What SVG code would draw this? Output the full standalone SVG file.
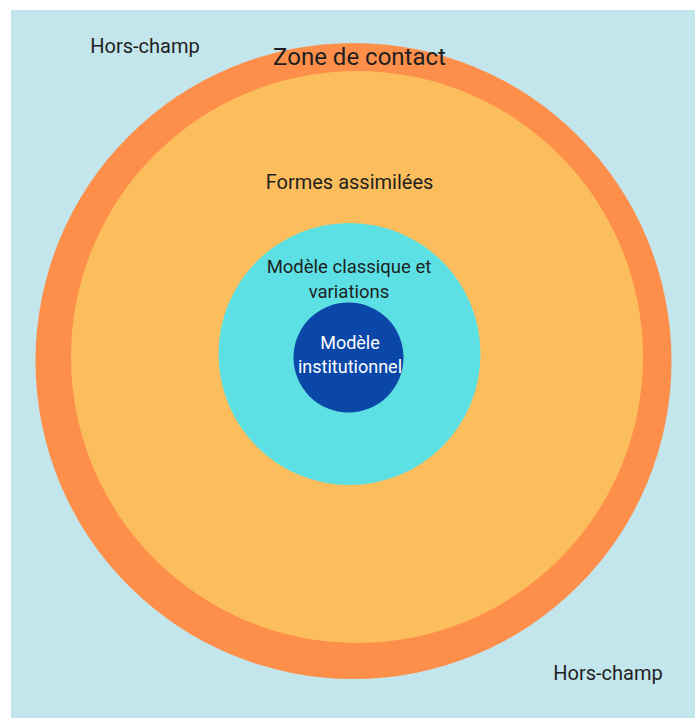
<svg xmlns="http://www.w3.org/2000/svg" width="695" height="718" viewBox="0 0 695 718">
<style>
text{font-family:Roboto,"Liberation Sans",sans-serif;fill:#1f1f1f;text-anchor:middle}
.h{font-size:20px}
.l{font-size:24px}
.m{font-size:18.5px}
.i{font-size:18px;fill:#ffffff}
</style>
<rect x="0" y="0" width="695" height="718" fill="#ffffff"/>
<rect x="11" y="10" width="684" height="708" fill="#C3E5EC"/>
<g id="zone-contact"><circle cx="353.5" cy="361" r="318" fill="#FE8F4B"/></g>
<g id="formes-assimilees"><circle cx="357" cy="357" r="286" fill="#FCBE5D"/></g>
<g id="modele-classique"><circle cx="349.5" cy="354" r="131" fill="#5CE0E4"/></g>
<g id="modele-institutionnel"><circle cx="348.5" cy="357.5" r="55" fill="#0B47A8"/></g>
<g id="labels">
<text class="h" x="145" y="53">Hors-champ</text>
<text class="l" x="359.5" y="65">Zone de contact</text>
<text class="h" x="349.5" y="189">Formes assimilées</text>
<text class="m" x="349" y="273">Modèle classique et</text>
<text class="m" x="349" y="298">variations</text>
<text class="i" x="350" y="349">Modèle</text>
<text class="i" x="350" y="373">institutionnel</text>
<text class="h" x="608" y="680">Hors-champ</text>
</g>
<g id="connectors"/>
</svg>
